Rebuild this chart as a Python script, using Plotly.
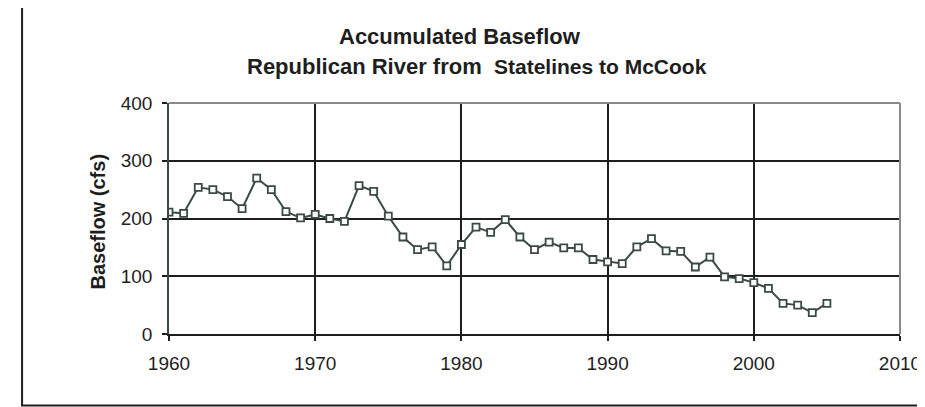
import plotly.graph_objects as go

# accumulated baseflow
years = list(range(1959, 2006))
baseflow = [238, 211, 209, 254, 250, 238, 217, 270, 250, 212,
            201, 207, 200, 195, 257, 247, 204, 168, 146, 151,
            118, 155, 185, 176, 198, 168, 146, 159, 149, 149,
            129, 125, 122, 151, 165, 144, 143, 116, 133, 99,
            96, 89, 79, 53, 50, 37, 53]

x_ticks = [1960, 1970, 1980, 1990, 2000, 2010]
y_ticks = [0, 100, 200, 300, 400]

line_col = "#3b4a44"
dark = "#1e1e1e"
font = "Arial, Liberation Sans, sans-serif"

fig = go.Figure()
fig.add_trace(go.Scatter(
    x=years, y=baseflow, mode="lines+markers",
    line=dict(color=line_col, width=2),
    marker=dict(symbol="square", size=7, color="white",
                line=dict(color=line_col, width=1.8)),
    cliponaxis=True, showlegend=False,
))

# page body adds 8px, so margins are shifted by that
fig.update_layout(
    width=925, height=407,
    margin=dict(l=161, r=25, t=95, b=81),
    paper_bgcolor="white", plot_bgcolor="white",
    font=dict(family=font, color=dark, size=19),
    xaxis=dict(range=[1960, 2010], tickvals=x_ticks, ticks="outside",
               ticklen=5, tickwidth=1.5, tickcolor=dark,
               showline=True, linecolor=dark, linewidth=2,
               showgrid=True, gridcolor=dark, gridwidth=2,
               zeroline=False, ticklabelstandoff=6,
               ticklabeloverflow="allow",
               tickfont=dict(size=19, color=dark)),
    yaxis=dict(range=[0, 400], tickvals=y_ticks, ticks="outside",
               ticklen=5, tickwidth=1.5, tickcolor=dark,
               showline=True, linecolor=line_col, linewidth=1.5,
               showgrid=True, gridcolor=dark, gridwidth=2,
               zeroline=False, ticklabelstandoff=6,
               tickfont=dict(size=19, color=dark)),
)

# top and right edges of plot area are grey
fig.add_shape(type="line", xref="paper", yref="paper", x0=0, x1=1, y0=1, y1=1,
              line=dict(color="#8a8a8a", width=2), layer="above")
fig.add_shape(type="line", xref="paper", yref="paper", x0=1, x1=1, y0=0, y1=1,
              line=dict(color="#8a8a8a", width=2), layer="above")

# chart border
fig.add_shape(type="rect", xref="paper", yref="paper",
              x0=-0.201, x1=1.1, y0=-0.3095, y1=1.422,
              line=dict(color=dark, width=2), layer="above")

fig.add_annotation(text="<b>Accumulated Baseflow</b>", xref="paper", yref="paper",
                   x=0.3985, y=1.29, xanchor="center", yanchor="middle",
                   showarrow=False, font=dict(size=22, color=dark))
fig.add_annotation(text="<b>Republican River from  <span style='font-size:21px'>Statelines to McCook</span></b>",
                   xref="paper", yref="paper",
                   x=0.422, y=1.156, xanchor="center", yanchor="middle",
                   showarrow=False, font=dict(size=22, color=dark))
fig.add_annotation(text="<b>Baseflow (cfs)</b>", xref="paper", yref="paper",
                   x=-0.0974, y=0.486, textangle=-90,
                   xanchor="center", yanchor="middle",
                   showarrow=False, font=dict(size=20, color=dark))

fig.write_html("out.html")
